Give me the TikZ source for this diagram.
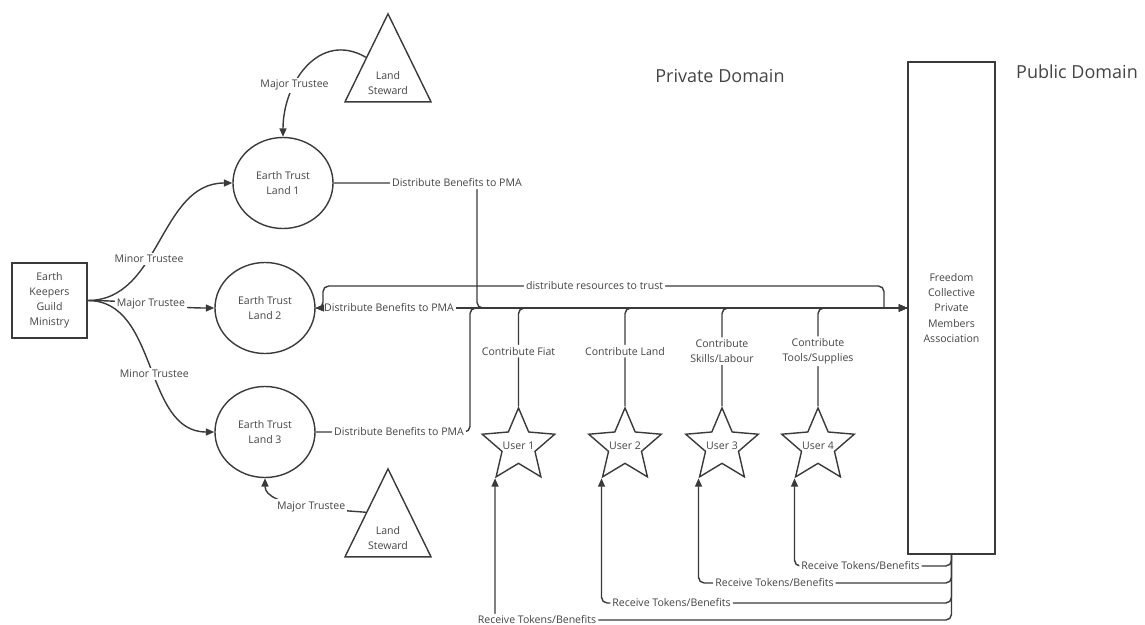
\documentclass[tikz,border=0pt]{standalone}
\usepackage{fontspec}
\setmainfont{Open Sans}
\usetikzlibrary{shapes.geometric,arrows.meta}
\definecolor{trait}{HTML}{3A3A3A}
\definecolor{texte}{HTML}{444444}
\newcommand\petit{\fontsize{7.5}{10.7}\selectfont}

\begin{document}
\begin{tikzpicture}[x=0.025cm,y=-0.025cm]
\tikzset{boite/.style={draw=trait, line width=1pt, minimum width=1.875cm, minimum height=1.875cm, align=center, font=\petit, text=texte},
ovale/.style={draw=trait, line width=1pt, ellipse, minimum width=2.5cm, minimum height=2.275cm, inner sep=0pt, align=center, font=\petit, text=texte},
etoile/.style={draw=trait, line width=1pt, star, star points=5, star point ratio=2.2, minimum size=1.905cm, inner sep=0pt, font=\petit, text=texte},
tri/.style={draw=trait, line width=1pt, isosceles triangle, shape border rotate=90, isosceles triangle stretches, minimum width=2.15cm, minimum height=2.2cm, inner sep=0pt, align=center, font=\petit, text=texte},
etiq/.style={fill=white, inner sep=1.5pt, align=center, font=\petit, text=texte},
titre/.style={font=\fontsize{12.8}{15}\selectfont, text=texte},
fleche/.style={draw=trait, line width=1pt, -{Triangle[length=6pt, width=5pt]}}}
\useasboundingbox (0,0) rectangle (1145,625);
\node[boite] (G) at (49.5,300.5) {Earth\\Keepers\\Guild\\Ministry};
\node[ovale] (T1) at (283,183) {Earth Trust\\Land 1};
\node[ovale] (T2) at (265,308) {Earth Trust\\Land 2};
\node[ovale] (T3) at (265,432) {Earth Trust\\Land 3};
\node[tri, anchor=apex] (S1) at (388,12) {Land\\Steward};
\node[tri, anchor=apex] (S2) at (388,467) {Land\\Steward};
\node[boite, minimum width=2.175cm, minimum height=12.3cm] (P) at (951.5,308) {Freedom\\Collective\\Private\\Members\\Association};
\node[etoile] (U1) at (518.5,446) {\makebox[0pt]{User 1}};
\node[etoile] (U2) at (625,446) {\makebox[0pt]{User 2}};
\node[etoile] (U3) at (722,446) {\makebox[0pt]{User 3}};
\node[etoile] (U4) at (818,446) {\makebox[0pt]{User 4}};
\node[titre] (D1) at (720,76) {Private Domain};
\node[titre] (D2) at (1077,72) {Public Domain};
\coordinate (K1) at (477,308);
\coordinate (K3) at (470,308);
\coordinate (R) at (884,308);
\coordinate (H) at (323,286);
\coordinate (r1) at (0,620);
\coordinate (r2) at (0,603);
\coordinate (r3) at (0,583);
\coordinate (r4) at (0,566);
\draw[fleche] (G.east) to[out=0,in=180] node[etiq,pos=0.4] {Minor Trustee} (T1.west);
\draw[fleche] (G.east) to[out=0,in=180] node[etiq,pos=0.5] {Major Trustee} (T2.west);
\draw[fleche] (G.east) to[out=0,in=180] node[etiq,pos=0.54] {Minor Trustee} (T3.west);
\draw[fleche] (S1.left side) to[out=150,in=90,looseness=1.2] node[etiq,pos=0.66] {Major Trustee} (T1.north);
\draw[fleche] (S2.left side) to[out=175,in=-90,looseness=0.7] node[etiq,pos=0.45] {Major Trustee} (T3.south);
\draw[fleche, rounded corners=4pt] (T1.east) -| node[etiq,pos=0.43] {Distribute Benefits to PMA} (K1) -- (P.west);
\draw[fleche, rounded corners=4pt] (T3.east) -| node[etiq,pos=0.27] {Distribute Benefits to PMA} (K3) -- (P.west);
\draw[fleche] (P.west) -- node[etiq,pos=0.876] {Distribute Benefits to PMA} (T2.east);
\draw[fleche, rounded corners=4pt] (R) |- node[etiq,pos=0.758] {distribute resources to trust} (H) |- (T2.east);
\draw[fleche, rounded corners=4pt] (U1.north) |- node[etiq,pos=0.28] {Contribute Fiat} (P.west);
\draw[fleche, rounded corners=4pt] (U2.north) |- node[etiq,pos=0.28] {Contribute Land} (P.west);
\draw[fleche, rounded corners=4pt] (U3.north) |- node[etiq,pos=0.28] {Contribute\\Skills/Labour} (P.west);
\draw[fleche, rounded corners=4pt] (U4.north) |- node[etiq,pos=0.28] {Contribute\\Tools/Supplies} (P.west);
\draw[fleche, rounded corners=4pt] (P.south) |- node[etiq,pos=0.79] {Receive Tokens/Benefits} (U4.outer point 3 |- r4) -- (U4.outer point 3);
\draw[fleche, rounded corners=4pt] (P.south) |- node[etiq,pos=0.85] {Receive Tokens/Benefits} (U3.outer point 3 |- r3) -- (U3.outer point 3);
\draw[fleche, rounded corners=4pt] (P.south) |- node[etiq,pos=0.9] {Receive Tokens/Benefits} (U2.outer point 3 |- r2) -- (U2.outer point 3);
\draw[fleche, rounded corners=4pt] (P.south) |- node[etiq,pos=0.954] {Receive Tokens/Benefits} (U1.outer point 3 |- r1) -- (U1.outer point 3);
\end{tikzpicture}
\end{document}
